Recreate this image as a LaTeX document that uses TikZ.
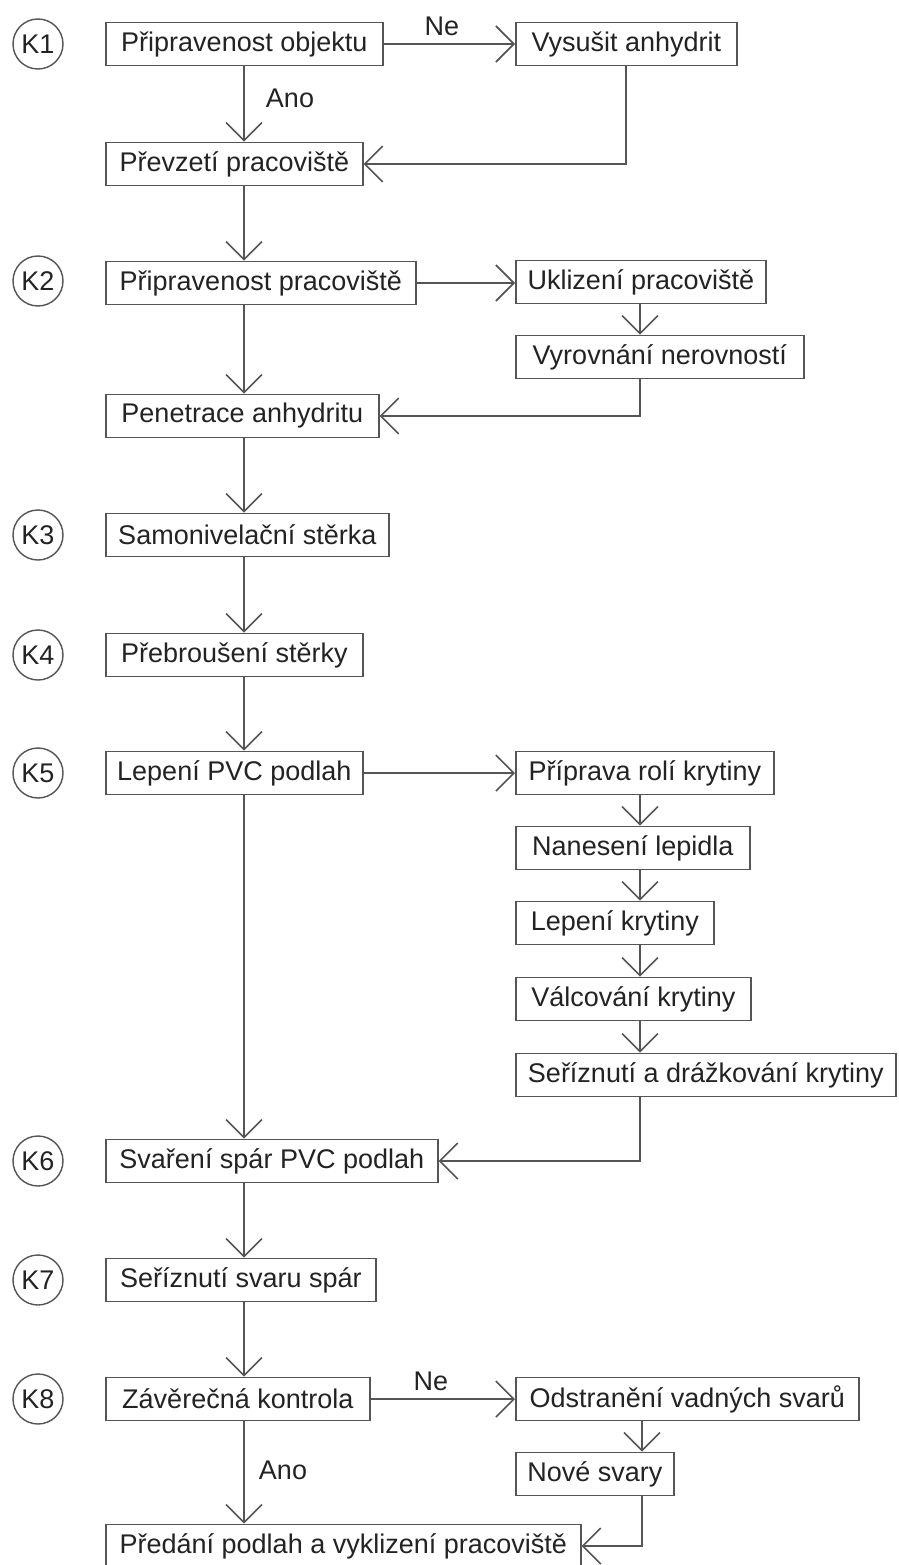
\documentclass[tikz,border=0pt]{standalone}
\usepackage{fontspec}
\setmainfont{Liberation Sans}
\usetikzlibrary{arrows.meta}
\definecolor{lncol}{RGB}{85,85,85}
\definecolor{txcol}{RGB}{35,35,35}
\begin{document}
\begin{tikzpicture}[x=1pt,y=-1pt,
  box/.style={draw=lncol, line width=1.6pt, minimum height=43pt, inner sep=0pt, text=txcol, font=\fontsize{27}{32}\selectfont, anchor=west},
  kc/.style={draw=lncol, line width=1.4pt, circle, minimum size=50pt, inner sep=0pt, text=txcol, font=\fontsize{27}{32}\selectfont},
  lbl/.style={text=txcol, font=\fontsize{27}{32}\selectfont, inner sep=0pt},
  conn/.style={draw=lncol, line width=1.6pt},
  arr/.style={conn, -{Straight Barb[length=18pt,width=36pt,line width=1.6pt]}}]
\useasboundingbox (0,0) rectangle (898,1565);
\fill[white] (0,0) rectangle (898,1565);
% left column
\node[box, minimum width=277pt] (b1) at (105,44) {Připravenost objektu};
\node[box, minimum width=257pt] (b2) at (105,164) {Převzetí pracoviště};
\node[box, minimum width=310pt] (b3) at (105,283) {Připravenost pracoviště};
\node[box, minimum width=273pt] (b4) at (105,416) {Penetrace anhydritu};
\node[box, minimum width=283pt] (b5) at (105,535) {Samonivelační stěrka};
\node[box, minimum width=257pt] (b6) at (105,655) {Přebroušení stěrky};
\node[box, minimum width=257pt] (b7) at (105,773) {Lepení PVC podlah};
\node[box, minimum width=332pt] (b8) at (105,1161) {Svaření spár PVC podlah};
\node[box, minimum width=270pt] (b9) at (105,1280) {Seříznutí svaru spár};
\node[box, minimum width=264pt] (b10) at (105,1399) {Závěrečná kontrola};
\node[box, minimum width=475pt] (b11) at (105,1546) {Předání podlah a vyklizení pracoviště};
% K circles
\node[kc] (k1) at (38,44) {K1};
\node[kc] (k2) at (38,281) {K2};
\node[kc] (k3) at (38,535) {K3};
\node[kc] (k4) at (38,655) {K4};
\node[kc] (k5) at (38,773) {K5};
\node[kc] (k6) at (38,1161) {K6};
\node[kc] (k7) at (38,1280) {K7};
\node[kc] (k8) at (38,1399) {K8};
% right column
\node[box, minimum width=221pt] (r1) at (515,44) {Vysušit anhydrit};
\node[box, minimum width=250pt] (r2) at (515,282) {Uklizení pracoviště};
\node[box, minimum width=288pt] (r3) at (515,357) {Vyrovnání nerovností};
\node[box, minimum width=258pt] (r5a) at (515,773) {Příprava rolí krytiny};
\node[box, minimum width=234pt] (r5b) at (515,848) {Nanesení lepidla};
\node[box, minimum width=198pt] (r5c) at (515,923) {Lepení krytiny};
\node[box, minimum width=235pt] (r5d) at (515,999) {Válcování krytiny};
\node[box, minimum width=380pt] (r5e) at (515,1075) {Seříznutí a drážkování krytiny};
\node[box, minimum width=343pt] (r8a) at (515,1399) {Odstranění vadných svarů};
\node[box, minimum width=158pt] (r8b) at (515,1474) {Nové svary};
% labels
\node[lbl] (ne1) at (442,26) {Ne};
\node[lbl] (ano1) at (290,98) {Ano};
\node[lbl] (ne2) at (431,1381) {Ne};
\node[lbl] (ano2) at (283,1470) {Ano};
% trunk coordinates
\coordinate (tx) at (244,0);
\coordinate (c1) at (626,0);
\coordinate (c2) at (640,0);
\coordinate (c3) at (642,0);
% connectors main trunk
\draw[arr] (tx |- b1.south) -- (tx |- b2.north);
\draw[arr] (tx |- b2.south) -- (tx |- b3.north);
\draw[arr] (tx |- b3.south) -- (tx |- b4.north);
\draw[arr] (tx |- b4.south) -- (tx |- b5.north);
\draw[arr] (tx |- b5.south) -- (tx |- b6.north);
\draw[arr] (tx |- b6.south) -- (tx |- b7.north);
\draw[arr] (tx |- b7.south) -- (tx |- b8.north);
\draw[arr] (tx |- b8.south) -- (tx |- b9.north);
\draw[arr] (tx |- b9.south) -- (tx |- b10.north);
\draw[arr] (tx |- b10.south) -- (tx |- b11.north);
% branch K1
\draw[arr] (b1.east) -- (r1.west);
\draw[arr] (c1 |- r1.south) |- (b2.east);
% branch K2
\draw[arr] (b3.east) -- (b3.east -| r2.west);
\draw[arr] (c2 |- r2.south) -- (c2 |- r3.north);
\draw[arr] (c2 |- r3.south) |- (b4.east);
% branch K5
\draw[arr] (b7.east) -- (r5a.west);
\draw[arr] (c2 |- r5a.south) -- (c2 |- r5b.north);
\draw[arr] (c2 |- r5b.south) -- (c2 |- r5c.north);
\draw[arr] (c2 |- r5c.south) -- (c2 |- r5d.north);
\draw[arr] (c2 |- r5d.south) -- (c2 |- r5e.north);
\draw[arr] (c2 |- r5e.south) |- (b8.east);
% branch K8
\draw[arr] (b10.east) -- (r8a.west);
\draw[arr] (c3 |- r8a.south) -- (c3 |- r8b.north);
\draw[arr] (c3 |- r8b.south) |- (b11.east);
\end{tikzpicture}
\end{document}
